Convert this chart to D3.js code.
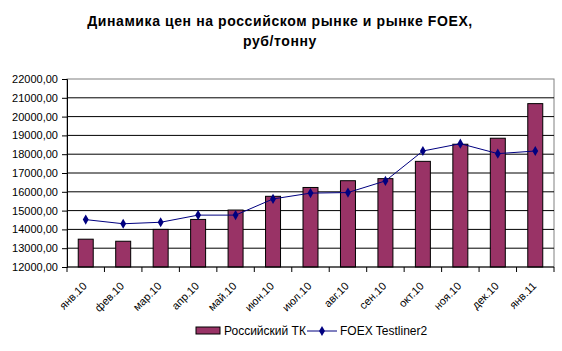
<!DOCTYPE html>
<html>
<head>
<meta charset="utf-8">
<script src="https://cdn.jsdelivr.net/npm/d3@7"></script>
<style>
  body { margin: 0; background: #fff; }
  text { font-family: "Liberation Sans", Arial, sans-serif; }
</style>
</head>
<body>
<div id="chart"></div>
<script>
var months = ["янв.10", "фев.10", "мар.10", "апр.10", "май.10", "июн.10", "июл.10",
              "авг.10", "сен.10", "окт.10", "ноя.10", "дек.10", "янв.11"];
var russianTK = [13480, 13370, 14000, 14530, 15030, 15760, 16230,
                 16590, 16700, 17620, 18530, 18850, 20690];
var foex = [14520, 14300, 14380, 14760, 14760, 15620, 15930,
            15960, 16580, 18170, 18560, 18030, 18170];
var yTicks = [12000, 13000, 14000, 15000, 16000, 17000, 18000, 19000, 20000, 21000, 22000];

var width = 562, height = 351;
var margin = {top: 79, right: 8, bottom: 84, left: 67};

var svg = d3.select("#chart").append("svg")
    .attr("width", width)
    .attr("height", height);

// title
svg.append("text")
    .attr("x", 280).attr("y", 26)
    .attr("text-anchor", "middle")
    .style("font-size", "14px").style("font-weight", "bold")
    .style("letter-spacing", "0.6px")
    .text("Динамика цен на российском рынке и рынке FOEX,");
svg.append("text")
    .attr("x", 280).attr("y", 46)
    .attr("text-anchor", "middle")
    .style("font-size", "14px").style("font-weight", "bold")
    .style("letter-spacing", "0.6px")
    .text("руб/тонну");

var x = d3.scaleBand()
    .domain(months)
    .range([margin.left, width - margin.right])
    .paddingInner(0.6)
    .paddingOuter(0.3);

var y = d3.scaleLinear()
    .domain([12000, 22000])
    .range([height - margin.bottom, margin.top]);

// plot border (gray)
svg.append("rect")
    .attr("x", margin.left).attr("y", y(22000))
    .attr("width", width - margin.right - margin.left)
    .attr("height", y(12000) - y(22000))
    .attr("fill", "none").attr("stroke", "#808080");

// gridlines
svg.append("g")
    .selectAll("line")
    .data(yTicks.slice(1, -1))
    .enter().append("line")
    .attr("x1", margin.left).attr("x2", width - margin.right)
    .attr("y1", function(d) { return y(d); })
    .attr("y2", function(d) { return y(d); })
    .attr("stroke", "#000").attr("stroke-width", 1);

// y axis
var yAxis = svg.append("g")
    .attr("transform", "translate(" + margin.left + ",0)")
    .call(d3.axisLeft(y).tickValues(yTicks).tickSize(5).tickPadding(4)
        .tickFormat(function(d) { return d + ",00"; }));
yAxis.select(".domain").attr("stroke", "#000");
yAxis.selectAll("text").style("font-size", "11px").attr("fill", "#000")
    .style("font-family", "'Liberation Sans', Arial, sans-serif");

// bars
svg.append("g")
    .selectAll("rect")
    .data(russianTK)
    .enter().append("rect")
    .attr("x", function(d, i) { return x(months[i]); })
    .attr("y", function(d) { return y(d); })
    .attr("width", x.bandwidth())
    .attr("height", function(d) { return y(12000) - y(d); })
    .attr("fill", "#993366")
    .attr("stroke", "#000").attr("stroke-width", 1);

// x axis
var step = x.step();
var xAxis = svg.append("g")
    .attr("transform", "translate(0," + y(12000) + ")");
xAxis.append("line")
    .attr("x1", margin.left).attr("x2", width - margin.right)
    .attr("stroke", "#000");
xAxis.selectAll(".tk")
    .data(d3.range(months.length + 1))
    .enter().append("line")
    .attr("x1", function(i) { return margin.left + i * step; })
    .attr("x2", function(i) { return margin.left + i * step; })
    .attr("y1", 0).attr("y2", 5)
    .attr("stroke", "#000");
xAxis.selectAll(".lbl")
    .data(months)
    .enter().append("text")
    .attr("transform", function(d) {
        return "translate(" + (x(d) + x.bandwidth() / 2 - 1) + ",17) rotate(-45)";
    })
    .attr("text-anchor", "end")
    .attr("dy", "0.35em")
    .style("font-size", "11px")
    .text(function(d) { return d; });

// line
var cx = function(d, i) { return x(months[i]) + x.bandwidth() / 2; };
svg.append("path")
    .datum(foex)
    .attr("d", d3.line().x(cx).y(function(d) { return y(d); }))
    .attr("fill", "none")
    .attr("stroke", "#000080").attr("stroke-width", 1);
svg.append("g")
    .selectAll("path")
    .data(foex)
    .enter().append("path")
    .attr("transform", function(d, i) { return "translate(" + cx(d, i) + "," + y(d) + ")"; })
    .attr("d", d3.symbol().type(d3.symbolDiamond).size(30))
    .attr("fill", "#000080");

// legend
var lg = svg.append("g").attr("transform", "translate(0,331)");
lg.append("rect")
    .attr("x", 196).attr("y", -4).attr("width", 24).attr("height", 7)
    .attr("fill", "#993366").attr("stroke", "#000");
lg.append("text")
    .attr("x", 224).attr("y", 0).attr("dy", "0.35em")
    .style("font-size", "12px")
    .text("Российский ТК");
lg.append("line")
    .attr("x1", 307).attr("x2", 337).attr("y1", 0).attr("y2", 0)
    .attr("stroke", "#000080");
lg.append("path")
    .attr("transform", "translate(322,0)")
    .attr("d", d3.symbol().type(d3.symbolDiamond).size(30))
    .attr("fill", "#000080");
lg.append("text")
    .attr("x", 340).attr("y", 0).attr("dy", "0.35em")
    .style("font-size", "12px")
    .text("FOEX Testliner2");
</script>
</body>
</html>
